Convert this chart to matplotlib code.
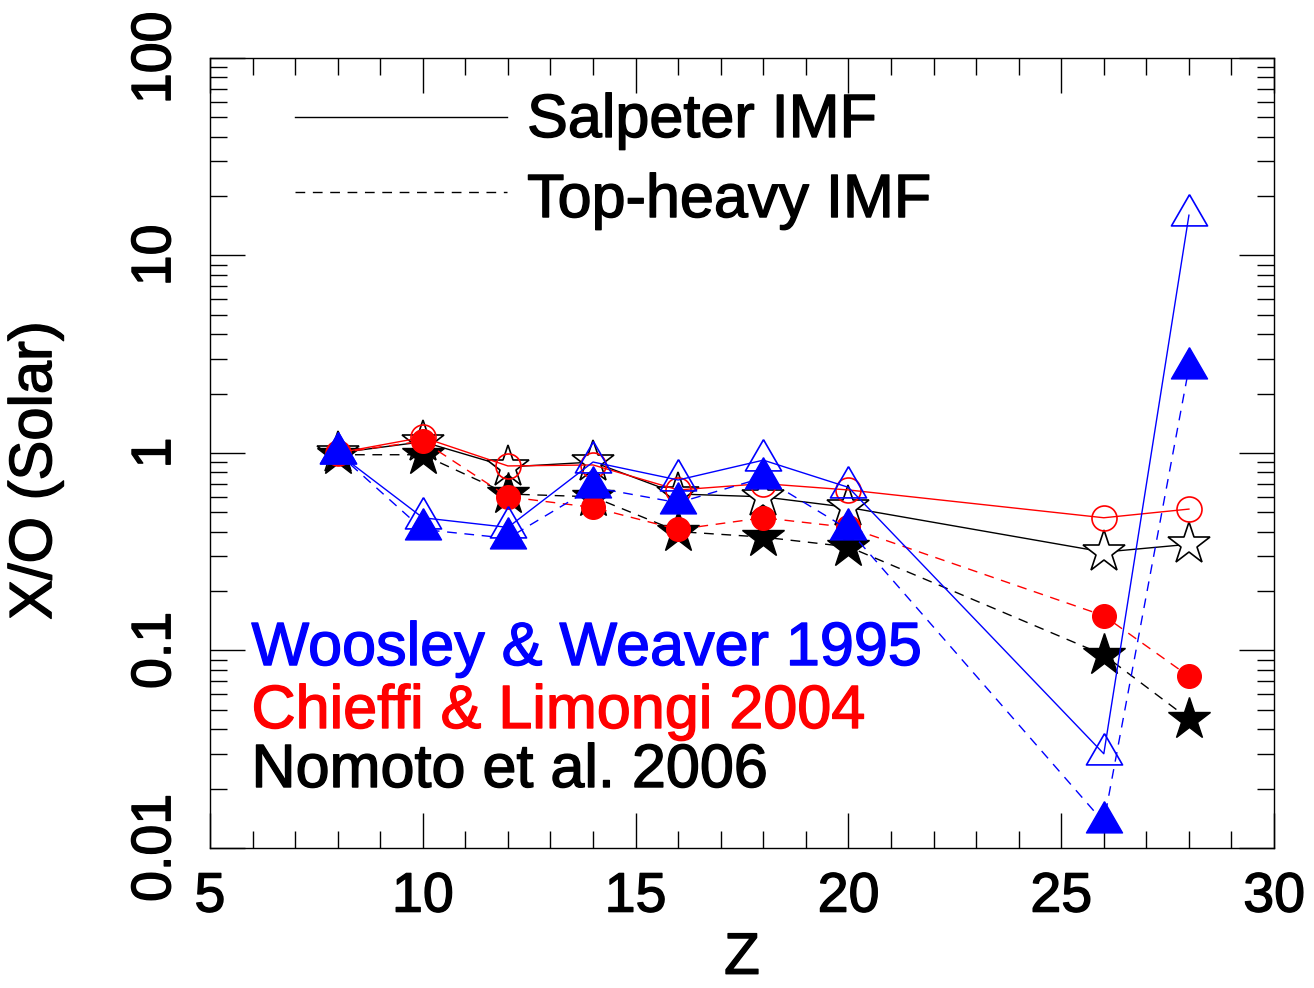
import matplotlib
matplotlib.use("Agg")
import matplotlib.pyplot as plt
import matplotlib.patheffects as pe
from matplotlib.lines import Line2D
from matplotlib.ticker import MultipleLocator, LogLocator, NullFormatter

plt.rcParams["font.family"] = ["Liberation Sans", "DejaVu Sans"]

z = [8, 10, 12, 14, 16, 18, 20, 26, 28]

# Nomoto et al. 2006
nom_salp = [1.0, 1.14, 0.85, 0.90, 0.62, 0.60, 0.53, 0.315, 0.345]
nom_top = [0.98, 0.98, 0.62, 0.60, 0.40, 0.375, 0.335, 0.095, 0.045]
# Chieffi & Limongi 2004
cl_salp = [1.0, 1.2, 0.86, 0.87, 0.65, 0.70, 0.65, 0.47, 0.52]
cl_top = [1.0, 1.15, 0.60, 0.53, 0.41, 0.47, 0.42, 0.15, 0.074]
# Woosley & Weaver 1995
ww_salp = [1.0, 0.47, 0.42, 0.90, 0.73, 0.92, 0.67, 0.030, 16.0]
ww_top = [1.0, 0.41, 0.37, 0.67, 0.56, 0.75, 0.41, 0.0135, 2.7]

xticks = [5, 10, 15, 20, 25, 30]
yticks = [0.01, 0.1, 1, 10, 100]
ytick_labels = ["0.01", "0.1", "1", "10", "100"]

DASH = (0, (7, 5.5))
# equilateral triangle centred on its centroid
TRI = [(0, 1.155), (-1, -0.577), (1, -0.577), (0, 1.155)]


def thick(color, w=1.0):
    return [pe.withStroke(linewidth=w, foreground=color)]


fig = plt.figure(figsize=(13.14, 9.88), dpi=100)
ax = fig.add_axes([0.1598, 0.1417, 0.8098, 0.7996])

# black: Nomoto
ax.plot(z, nom_salp, color="black", lw=1, marker="*", ms=32, mfc="white", mec="black", mew=1.2)
ax.plot(z, nom_top, color="black", lw=1, ls=DASH, marker="*", ms=32, mfc="black", mec="black")
# red: Chieffi & Limongi
ax.plot(z, cl_salp, color="red", lw=1, marker="o", ms=18, mfc="none", mec="red", mew=1.2)
ax.plot(z, cl_top, color="red", lw=1, ls=DASH, marker="o", ms=17, mfc="red", mec="red")
# blue: Woosley & Weaver
ax.plot(z, ww_salp, color="blue", lw=1, marker=TRI, ms=30, mfc="none", mec="blue", mew=1.2)
ax.plot(z, ww_top, color="blue", lw=1, ls=DASH, marker=TRI, ms=30, mfc="blue", mec="blue")

ax.set_yscale("log")
ax.set_xlim(5, 30)
ax.set_ylim(0.01, 100)

ax.set_xticks(xticks)
ax.set_xticklabels([str(t) for t in xticks], fontsize=40)
ax.xaxis.set_minor_locator(MultipleLocator(1))
ax.set_yticks(yticks)
ax.set_yticklabels(ytick_labels, rotation=90, va="center", fontsize=40)
ax.yaxis.set_minor_locator(LogLocator(base=10, subs=range(2, 10)))
ax.yaxis.set_minor_formatter(NullFormatter())
for lab in ax.get_xticklabels() + ax.get_yticklabels():
    lab.set_path_effects(thick("black"))

ax.tick_params(which="both", direction="in", top=True, right=True, width=1)
ax.tick_params(which="major", length=25)
ax.tick_params(axis="x", which="major", pad=17)
ax.tick_params(axis="y", which="major", pad=20)
ax.tick_params(which="minor", length=12)
for s in ax.spines.values():
    s.set_linewidth(1)

ax.set_xlabel("Z", fontsize=42, path_effects=thick("black"))
ax.xaxis.set_label_coords(0.5, -0.106)
ax.set_ylabel("X/O (Solar)", fontsize=43, path_effects=thick("black"))
ax.yaxis.set_label_coords(-0.138, 0.478)

# IMF key
ax.add_line(Line2D([0.080, 0.279], [0.9253, 0.9253], color="black", lw=1, transform=ax.transAxes))
ax.add_line(Line2D([0.080, 0.279], [0.8304, 0.8304], color="black", lw=1, ls=DASH, transform=ax.transAxes))
ax.text(0.298, 0.900, "Salpeter IMF", fontsize=44, va="baseline",
        transform=ax.transAxes, path_effects=thick("black"))
ax.text(0.298, 0.7987, "Top-heavy IMF", fontsize=44, va="baseline",
        transform=ax.transAxes, path_effects=thick("black"))

# model labels
ax.text(0.039, 0.2316, "Woosley & Weaver 1995", color="blue", fontsize=44, va="baseline",
        transform=ax.transAxes, path_effects=thick("blue"))
ax.text(0.039, 0.1519, "Chieffi & Limongi 2004", color="red", fontsize=44, va="baseline",
        transform=ax.transAxes, path_effects=thick("red"))
ax.text(0.039, 0.0772, "Nomoto et al. 2006", color="black", fontsize=44, va="baseline",
        transform=ax.transAxes, path_effects=thick("black"))

fig.savefig("out.png", dpi=100)
